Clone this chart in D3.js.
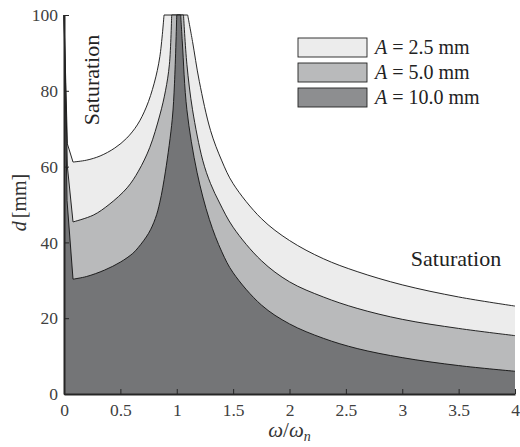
<!DOCTYPE html>
<meta charset="utf-8">
<style>
body { margin: 0; background: #fff; }
text { font-family: "Liberation Serif", "DejaVu Serif", "Noto Serif", serif; }
.axis path, .axis line { stroke: #262626; }
.axis text { fill: #404040; font-size: 17.5px; font-family: "Liberation Serif", "DejaVu Serif", "Noto Serif", serif; }
.edge { fill: none; stroke: #111; stroke-width: 0.9px; }
</style>
<svg width="520" height="447"></svg>
<script src="https://d3js.org/d3.v7.min.js"></script>
<script>

// frequency ratio and displacement limit
var labels = ["2.5", "5.0", "10.0"];
var fills = ["#ececec", "#b9babb", "#747577"];
var legendFills = ["#ececec", "#b9babb", "#8d8e90"];

var w25 = [0, 0.03, 0.08, 0.2, 0.32, 0.45, 0.556, 0.65, 0.73, 0.8, 0.85, 0.887, 1.097, 1.14, 1.2, 1.3, 1.4, 1.5, 1.75, 2.0, 2.3, 2.6, 3.0, 3.5, 4.0];
var d25 = [100, 66, 61.2, 61.7, 62.8, 64.9, 67.5, 71, 75.7, 82, 89, 100, 100, 93, 82.5, 69.5, 61.5, 55.5, 46.3, 40.5, 35.7, 32.3, 28.8, 25.6, 23.2];

var w50 = [0, 0.03, 0.08, 0.26, 0.4, 0.56, 0.66, 0.76, 0.85, 0.9, 0.935, 0.955, 1.06, 1.09, 1.14, 1.23, 1.3, 1.38, 1.5, 1.75, 2.0, 2.3, 2.6, 3.0, 3.5, 4.0];
var d50 = [100, 60, 45.4, 47.2, 50, 54.4, 58.8, 65, 73.6, 80, 87, 100, 100, 87, 75, 61.7, 55.5, 50.4, 44, 35.2, 29.6, 25.6, 22.6, 19.7, 17.3, 15.4];

var w100 = [0, 0.027, 0.08, 0.2, 0.36, 0.5, 0.61, 0.66, 0.75, 0.81, 0.85, 0.9, 0.96, 0.98, 1.0, 1.035, 1.05, 1.09, 1.18, 1.29, 1.4, 1.5, 1.75, 2.0, 2.3, 2.6, 3.0, 3.5, 4.0];
var d100 = [100, 51, 30.3, 31, 32.7, 34.8, 37.1, 38.7, 42.4, 46.3, 50.6, 58.8, 72.5, 82, 100, 100, 92.6, 75, 58.5, 46, 37.5, 32, 23.5, 18.5, 14.7, 12.0, 9.6, 7.5, 6.0];

var xTicks = [0, 0.5, 1, 1.5, 2, 2.5, 3, 3.5, 4];
var yTicks = [0, 20, 40, 60, 80, 100];

var svg = d3.select("svg"),
    margin = {top: 15, right: 5, bottom: 53, left: 64},
    width = +svg.attr("width") - margin.left - margin.right,
    height = +svg.attr("height") - margin.top - margin.bottom;

var x = d3.scaleLinear().domain([0, 4]).range([0, width]),
    y = d3.scaleLinear().domain([0, 100]).range([height, 0]);

var g = svg.append("g")
    .attr("transform", "translate(" + margin.left + "," + margin.top + ")");

var series = [
  {w: w25, d: d25},
  {w: w50, d: d50},
  {w: w100, d: d100}
];

// build the top edge in pieces so the kinks (minimum near 0.08, saturation at 100) stay sharp
function topPath(s) {
  var pts = s.w.map(function(w, i) { return [w, s.d[i]]; });
  var iMin = 2;
  var iTop0 = s.d.indexOf(100, 1);
  var iTop1 = s.d.lastIndexOf(100);
  var lin = d3.line().x(function(p) { return x(p[0]); }).y(function(p) { return y(p[1]); });
  var smooth = d3.line().x(function(p) { return x(p[0]); }).y(function(p) { return y(p[1]); })
      .curve(d3.curveCatmullRom.alpha(0.5));
  var path = lin(pts.slice(0, iMin + 1));
  path += smooth(pts.slice(iMin, iTop0 + 1)).replace(/^M/, "L");
  path += lin(pts.slice(iTop0, iTop1 + 1)).replace(/^M/, "L");
  path += smooth(pts.slice(iTop1)).replace(/^M/, "L");
  return path;
}

series.forEach(function(s, i) {
  var top = topPath(s);
  g.append("path")
      .attr("d", top + "L" + x(4) + "," + y(0) + "L" + x(0) + "," + y(0) + "Z")
      .attr("fill", fills[i]);
  g.append("path")
      .attr("class", "edge")
      .attr("d", top);
});

g.append("g")
    .attr("class", "axis")
    .attr("transform", "translate(0," + height + ")")
    .call(d3.axisBottom(x).tickValues(xTicks).tickSizeInner(-5).tickSizeOuter(0).tickPadding(10)
      .tickFormat(function(d) { return d; }))
    .call(function(a) { a.select(".domain").attr("stroke-width", 2); });

g.append("g")
    .attr("class", "axis")
    .call(d3.axisLeft(y).tickValues(yTicks).tickSizeInner(-5).tickSizeOuter(0).tickPadding(6))
    .call(function(a) { a.select(".domain").attr("stroke-width", 2); });

// axis titles
var xl = svg.append("text")
    .attr("x", margin.left + width / 2)
    .attr("y", 437)
    .attr("text-anchor", "middle")
    .attr("fill", "#333")
    .style("font-size", "21px");
xl.append("tspan").style("font-style", "italic").text("ω");
xl.append("tspan").text("/");
xl.append("tspan").style("font-style", "italic").text("ω");
xl.append("tspan").style("font-style", "italic").style("font-size", "14px").attr("dy", 4).text("n");

var yl = svg.append("text")
    .attr("transform", "translate(26," + (margin.top + height / 2 - 2) + ") rotate(-90)")
    .attr("text-anchor", "middle")
    .attr("fill", "#333")
    .style("font-size", "20px");
yl.append("tspan").style("font-style", "italic").text("d");
yl.append("tspan").attr("dx", 3).text("[mm]");

// annotations
svg.append("text")
    .attr("transform", "translate(99,80) rotate(-90)")
    .attr("text-anchor", "middle")
    .attr("fill", "#222")
    .style("font-size", "22px")
    .text("Saturation");

svg.append("text")
    .attr("x", 456)
    .attr("y", 266)
    .attr("text-anchor", "middle")
    .attr("fill", "#222")
    .style("font-size", "22px")
    .text("Saturation");

// legend
var leg = svg.append("g").attr("transform", "translate(298,38)");
labels.forEach(function(l, i) {
  var row = leg.append("g").attr("transform", "translate(0," + (i * 25) + ")");
  row.append("rect")
      .attr("width", 69).attr("height", 19)
      .attr("fill", legendFills[i])
      .attr("stroke", "#222").attr("stroke-width", 0.9);
  var t = row.append("text")
      .attr("x", 77).attr("y", 16)
      .attr("fill", "#222")
      .style("font-size", "20px");
  t.append("tspan").style("font-style", "italic").text("A");
  t.append("tspan").attr("dx", 5).text("=");
  t.append("tspan").attr("dx", 5).text(l);
  t.append("tspan").attr("dx", 5).text("mm");
});

</script>
